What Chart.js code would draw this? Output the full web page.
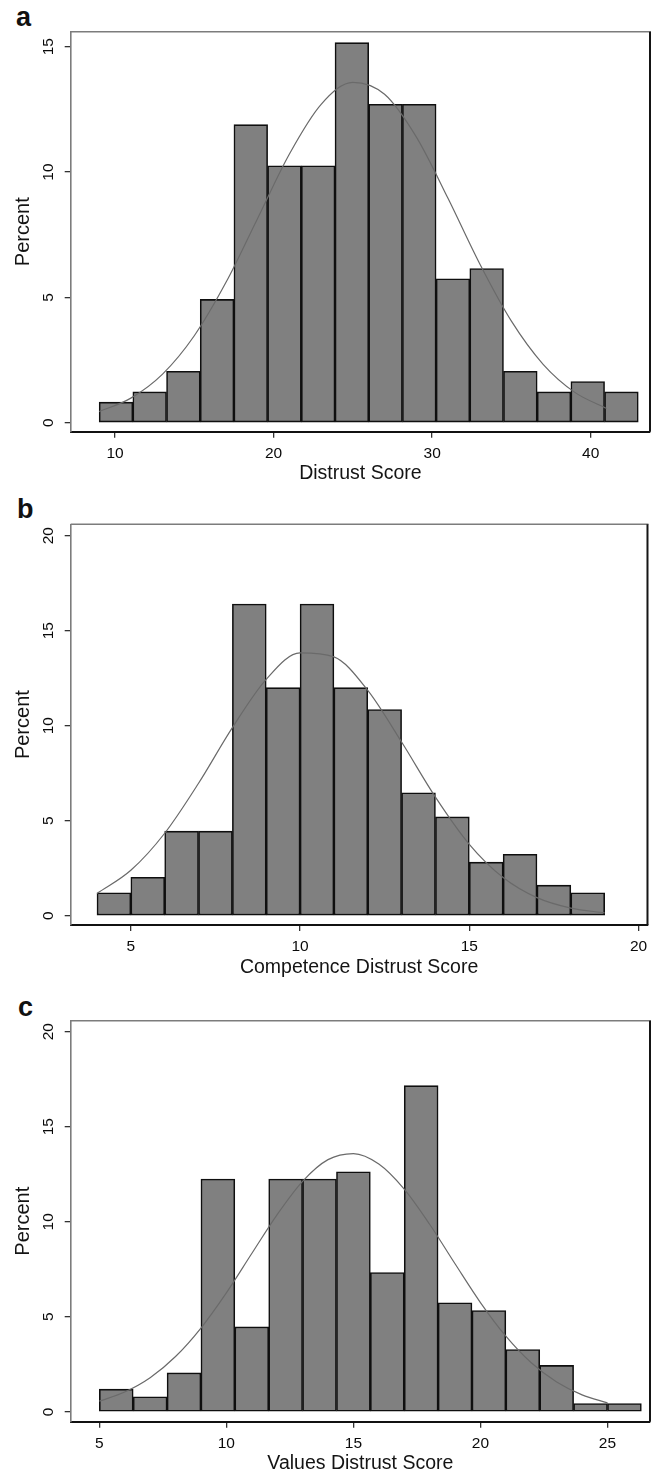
<!DOCTYPE html>
<html>
<head>
<meta charset="utf-8">
<script src="https://cdn.jsdelivr.net/npm/chart.js@4.4.1/dist/chart.umd.min.js"></script>
<style>
  html, body { margin:0; padding:0; background:#fff; }
  body { width:654px; height:1471px; overflow:hidden; position:relative; font-family:"Liberation Sans", Arial, sans-serif; }
  .panel { position:absolute; left:0; width:654px; }
  .lab { position:absolute; font-weight:bold; font-size:27px; line-height:27px; color:#111; }
</style>
</head>
<body>
<div class="lab" style="left:16px; top:4px;">a</div>
<div class="lab" style="left:17px; top:496px;">b</div>
<div class="lab" style="left:18px; top:994px;">c</div>
<div class="panel" style="top:0px; height:490px;"><canvas id="ca" width="654" height="490"></canvas></div>
<div class="panel" style="top:490px; height:490px;"><canvas id="cb" width="654" height="490"></canvas></div>
<div class="panel" style="top:980px; height:500px;"><canvas id="cc" width="654" height="500"></canvas></div>
<script>
// ---------- Panel a: Distrust Score ----------
const aBinEdges = [9, 11.125, 13.25, 15.375, 17.5, 19.625, 21.75, 23.875, 26, 28.125, 30.25, 32.375, 34.5, 36.625, 38.75, 40.875, 43];
const aPercent  = [0.82, 1.23, 2.05, 4.92, 11.89, 10.25, 10.25, 15.16, 12.70, 12.70, 5.74, 6.15, 2.05, 1.23, 1.64, 1.23];
const aCurveX   = [9, 11, 13, 15, 17, 19, 21, 23, 25, 27, 29, 31, 33, 35, 37, 39, 41];
const aCurveY   = [0.44, 0.98, 1.94, 3.47, 5.60, 8.16, 10.72, 12.70, 13.58, 13.10, 11.40, 8.95, 6.34, 4.05, 2.33, 1.21, 0.57];
const aXTicks   = [10, 20, 30, 40];
const aYTicks   = [0, 5, 10, 15];

// ---------- Panel b: Competence Distrust Score ----------
const bBinEdges = [4, 5, 6, 7, 8, 9, 10, 11, 12, 13, 14, 15, 16, 17, 18, 19];
const bPercent  = [1.21, 2.02, 4.45, 4.45, 16.4, 12.0, 16.4, 12.0, 10.85, 6.47, 5.2, 2.82, 3.23, 1.61, 1.21];
const bCurveX   = [4, 5, 6, 7, 8, 9, 10, 11, 12, 13, 14, 15, 16, 17, 18, 19];
const bCurveY   = [1.17, 2.39, 4.34, 6.97, 9.90, 12.44, 13.83, 13.62, 11.86, 9.14, 6.24, 3.76, 2.01, 0.95, 0.40, 0.15];
const bXTicks   = [5, 10, 15, 20];
const bYTicks   = [0, 5, 10, 15, 20];

// ---------- Panel c: Values Distrust Score ----------
const cBinEdges = [5, 6.3333, 7.6667, 9, 10.3333, 11.6667, 13, 14.3333, 15.6667, 17, 18.3333, 19.6667, 21, 22.3333, 23.6667, 25, 26.3333];
const cPercent  = [1.19, 0.79, 2.05, 12.25, 4.47, 12.25, 12.25, 12.63, 7.33, 17.16, 5.74, 5.33, 3.28, 2.44, 0.44, 0.44];
const cCurveX   = [5, 6, 7, 8, 9, 10, 11, 12, 13, 14, 15, 16, 17, 18, 19, 20, 21, 22, 23, 24, 25];
const cCurveY   = [0.56, 1.04, 1.79, 2.91, 4.41, 6.26, 8.33, 10.38, 12.13, 13.27, 13.59, 13.04, 11.72, 9.87, 7.79, 5.75, 3.98, 2.58, 1.57, 0.89, 0.47];
const cXTicks   = [5, 10, 15, 20, 25];
const cYTicks   = [0, 5, 10, 15, 20];

const FAMILY = '"Liberation Sans", Arial, sans-serif';

const boxPlugin = {
  id: 'box',
  afterDraw(chart) {
    const { ctx, chartArea: a } = chart;
    ctx.save();
    ctx.strokeStyle = '#7c7c7c';
    ctx.lineWidth = 1.6;
    ctx.beginPath();
    ctx.moveTo(a.left, a.top);
    ctx.lineTo(a.right + 1, a.top);
    ctx.stroke();
    ctx.strokeStyle = '#151515';
    ctx.lineWidth = 2;
    ctx.beginPath();
    ctx.moveTo(a.right, a.top);
    ctx.lineTo(a.right, a.bottom);
    ctx.stroke();
    ctx.restore();
  }
};

function makeChart(id, p) {
  const centers = p.edges.slice(0, -1).map((e, i) => (e + p.edges[i + 1]) / 2);
  return new Chart(document.getElementById(id), {
    type: 'bar',
    data: {
      datasets: [
        {
          type: 'line',
          data: p.curveX.map((x, i) => ({ x: x, y: p.curveY[i] })),
          borderColor: '#6a6a6a',
          borderWidth: 1.2,
          pointRadius: 0,
          fill: false,
          cubicInterpolationMode: 'monotone',
          order: 0
        },
        {
          type: 'bar',
          data: centers.map((x, i) => ({ x: x, y: p.percent[i] })),
          backgroundColor: '#808080',
          borderColor: '#0f0f0f',
          borderWidth: 1.6,
          borderSkipped: false,
          barPercentage: 1,
          categoryPercentage: 1,
          order: 1
        }
      ]
    },
    options: {
      responsive: false,
      animation: false,
      events: [],
      layout: { padding: { top: p.padTop, left: 0, right: 4, bottom: p.padBottom } },
      plugins: { legend: { display: false }, tooltip: { enabled: false } },
      scales: {
        x: {
          type: 'linear',
          min: p.xMin, max: p.xMax,
          offset: false,
          afterBuildTicks: s => { s.ticks = p.xTicks.map(v => ({ value: v })); },
          afterFit: s => { s.height = 54; },
          grid: { display: true, offset: false, drawOnChartArea: false, drawTicks: true, tickLength: 6, color: '#333', lineWidth: 1.3 },
          border: { display: true, color: '#111', width: 2 },
          ticks: { font: { size: 15.5, family: FAMILY }, color: '#0a0a0a', padding: 6.8, maxRotation: 0, autoSkip: false },
          title: { display: true, text: p.xTitle, font: { size: 19.5, family: FAMILY }, color: '#141414', padding: { top: 0, bottom: 0 } }
        },
        y: {
          type: 'linear',
          min: p.yMin, max: p.yMax,
          afterBuildTicks: s => { s.ticks = p.yTicks.map(v => ({ value: v })); },
          afterFit: s => { s.width = 70.7; },
          grid: { display: true, drawOnChartArea: false, drawTicks: true, tickLength: 6, color: '#333', lineWidth: 1.3 },
          border: { display: true, color: '#7c7c7c', width: 1.6 },
          ticks: { font: { size: 15.5, family: FAMILY }, color: '#0a0a0a', padding: 7, minRotation: 90, maxRotation: 90, crossAlign: 'center', autoSkip: false },
          title: { display: true, text: 'Percent', font: { size: 20, family: FAMILY }, color: '#141414', padding: { top: 11, bottom: 0 } }
        }
      }
    },
    plugins: [boxPlugin]
  });
}

makeChart('ca', {
  edges: aBinEdges, percent: aPercent, curveX: aCurveX, curveY: aCurveY,
  xTicks: aXTicks, yTicks: aYTicks, xTitle: 'Distrust Score',
  xMin: 7.206, xMax: 43.74, yMin: -0.359, yMax: 15.598,
  padTop: 31.7, padBottom: 4.3
});
makeChart('cb', {
  edges: bBinEdges, percent: bPercent, curveX: bCurveX, curveY: bCurveY,
  xTicks: bXTicks, yTicks: bYTicks, xTitle: 'Competence Distrust Score',
  xMin: 3.223, xMax: 20.265, yMin: -0.489, yMax: 20.6,
  padTop: 34.3, padBottom: 1.0
});
makeChart('cc', {
  edges: cBinEdges, percent: cPercent, curveX: cCurveX, curveY: cCurveY,
  xTicks: cXTicks, yTicks: cYTicks, xTitle: 'Values Distrust Score',
  xMin: 3.874, xMax: 26.673, yMin: -0.52, yMax: 20.58,
  padTop: 40.7, padBottom: 4.3
});
</script>
</body>
</html>
